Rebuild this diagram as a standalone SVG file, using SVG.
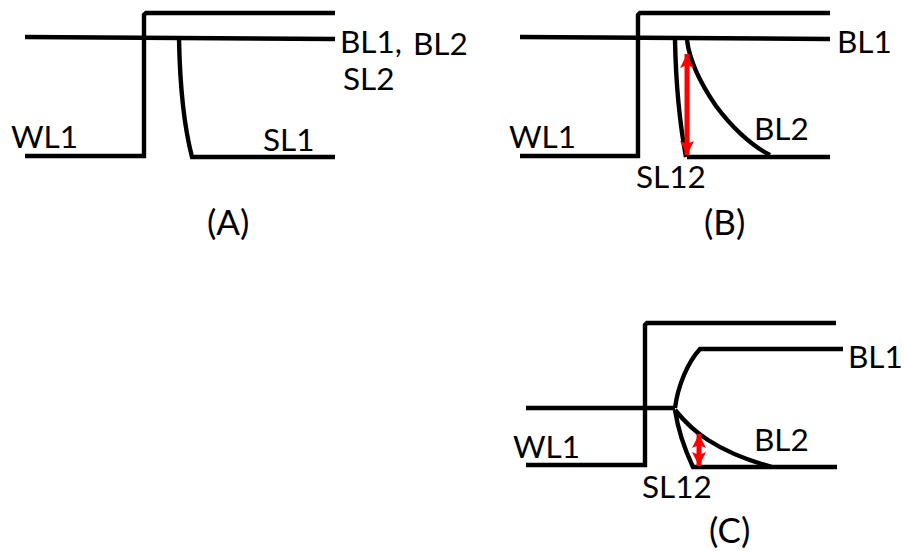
<svg xmlns="http://www.w3.org/2000/svg" width="904" height="551" viewBox="0 0 904 551">
<style>
.w{fill:none;stroke:#000;stroke-width:4.4}
.r{fill:none;stroke:#f00;stroke-width:5}
text{font-family:"Lato","Open Sans",sans-serif;font-size:31.5px;fill:#000}
text.cap{font-size:35px}
</style>
<defs>
<marker id="ah" markerUnits="userSpaceOnUse" markerWidth="16" markerHeight="16" refX="14" refY="7" orient="auto-start-reverse"><path d="M0 0L14 7L0 14L3 7Z" fill="#f00"/></marker>
</defs>
<rect width="904" height="551" fill="#fff"/>
<g id="connectors">
<g id="lines-a">
<path class="w" d="M25 156H144V15L146 13H335"/>
<path class="w" d="M25 37L335 39"/>
<path class="w" d="M179 39C180 90 185 130 192 157H335"/>
</g>
<g id="lines-b">
<path class="w" d="M520 156H638V15L640 13H830"/>
<path class="w" d="M520 37L830 39"/>
<path class="w" d="M675 40C676 90 680 125 686 157"/>
<path class="w" d="M687 40C690 65 705 90 716 106C730 125 750 145 770 155"/>
<path class="w" d="M687 157H830"/>
<path class="r" d="M687 54V155" marker-start="url(#ah)" marker-end="url(#ah)"/>
</g>
<g id="lines-c">
<path class="w" d="M526 465H645V325L647 323H836"/>
<path class="w" d="M526 408H675"/>
<path class="w" d="M675 408C678 385 688 362 700 349H843"/>
<path class="w" d="M675 410C685 422 695 432 708 440C725 451 750 461 772 467"/>
<path class="w" d="M675 410C678 430 685 450 693 467H837"/>
<path class="r" d="M699 434V466" marker-start="url(#ah)" marker-end="url(#ah)"/>
</g>
</g>
<g id="label-a">
<text x="11" y="148">WL1</text>
<text x="263" y="151">SL1</text>
<text x="340" y="53">BL1,</text>
<text x="413" y="55">BL2</text>
<text x="343" y="90">SL2</text>
<text class="cap" x="207" y="235">(A)</text>
</g>
<g id="label-b">
<text x="509" y="148">WL1</text>
<text x="837" y="53">BL1</text>
<text x="754" y="140">BL2</text>
<text x="636" y="188">SL12</text>
<text class="cap" x="704" y="235">(B)</text>
</g>
<g id="label-c">
<text x="513" y="458">WL1</text>
<text x="848" y="368">BL1</text>
<text x="754" y="451">BL2</text>
<text x="642" y="498">SL12</text>
<text class="cap" x="709" y="543">(C)</text>
</g>
</svg>
